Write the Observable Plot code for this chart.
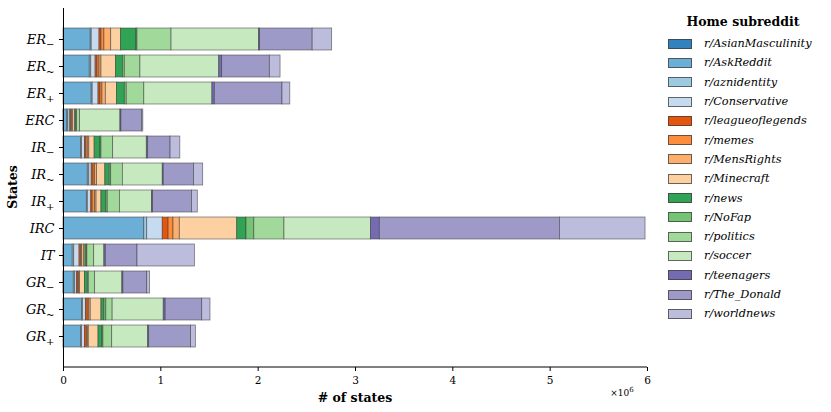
<!DOCTYPE html>
<html>
<head>
<meta charset="utf-8">
<script src="https://cdn.jsdelivr.net/npm/d3@7"></script>
<script src="https://cdn.jsdelivr.net/npm/@observablehq/plot@0.6"></script>
<style>
  body { margin: 0; background: #fff; }
  #wrap { position: relative; width: 831px; height: 412px; font-family: "DejaVu Serif", serif; }
  #chart { position: absolute; left: 0; top: 0; }
  #legend { position: absolute; left: 668px; top: 14px; width: 163px; }
  #legend .title { font-weight: bold; font-size: 12.5px; text-align: center; width: 150px; margin-bottom: 5px; }
  #legend .row { display: flex; align-items: center; height: 19.3px; }
  #legend .sw { width: 24px; height: 10px; border: 1px solid rgba(60,60,60,0.75); box-sizing: border-box; margin-right: 12px; }
  #legend .lab { font-style: italic; font-size: 11.3px; white-space: nowrap; }
</style>
</head>
<body>
<div id="wrap"><div id="chart"></div><div id="legend"></div></div>
<script>
const states = ["ER_-","ER_~","ER_+","ERC","IR_-","IR_~","IR_+","IRC","IT","GR_-","GR_~","GR_+"];
const subreddits = ["r/AsianMasculinity","r/AskReddit","r/aznidentity","r/Conservative","r/leagueoflegends","r/memes","r/MensRights","r/Minecraft","r/news","r/NoFap","r/politics","r/soccer","r/teenagers","r/The_Donald","r/worldnews"];
const colors = ["#3182bd","#6baed6","#9ecae1","#c6dbef","#e6550d","#fd8d3c","#fdae6b","#fdd0a2","#31a354","#74c476","#a1d99b","#c7e9c0","#756bb1","#9e9ac8","#bcbddc"];

// counts per subreddit, one value per state (same order as `states`)
const asianMasculinity = [5000,5000,5000,2000,3000,3000,3000,5000,2000,2000,3000,3000];
const askReddit        = [275000,265000,285000,38000,177000,247000,237000,825000,93000,104000,187000,177000];
const aznidentity      = [10000,15000,10000,10000,10000,15000,10000,30000,15000,14000,10000,10000];
const conservative     = [80000,45000,60000,20000,30000,25000,35000,160000,55000,20000,30000,30000];
const leagueoflegends  = [20000,20000,20000,10000,15000,20000,15000,60000,15000,15000,20000,20000];
const memes            = [30000,20000,20000,10000,15000,15000,25000,50000,10000,10000,15000,10000];
const mensRights       = [70000,20000,35000,10000,15000,20000,15000,65000,20000,5000,15000,10000];
const minecraft        = [100000,150000,115000,20000,55000,85000,50000,590000,15000,50000,110000,100000];
const news             = [160000,70000,80000,10000,60000,45000,50000,95000,15000,30000,30000,40000];
const noFap            = [10000,20000,20000,10000,10000,15000,15000,80000,5000,10000,20000,10000];
const politics         = [350000,160000,180000,30000,120000,120000,125000,310000,70000,65000,65000,90000];
const soccer           = [900000,810000,700000,415000,346000,410000,330000,890000,105000,280000,525000,370000];
const teenagers        = [10000,30000,25000,10000,14000,10000,10000,90000,15000,10000,20000,10000];
const theDonald        = [540000,490000,695000,215000,230000,310000,400000,1850000,325000,245000,375000,430000];
const worldnews        = [200000,110000,80000,10000,100000,95000,60000,880000,590000,30000,85000,50000];

const xTicks = [0,1e6,2e6,3e6,4e6,5e6,6e6];

const series = [asianMasculinity,askReddit,aznidentity,conservative,leagueoflegends,memes,mensRights,minecraft,news,noFap,politics,soccer,teenagers,theDonald,worldnews];
const rows = [];
states.forEach((s, i) => {
  subreddits.forEach((r, j) => rows.push({state: s, sub: r, value: series[j][i]}));
});

const W = 660, H = 412;
const chart = Plot.plot({
  width: W, height: H,
  marginLeft: 63, marginRight: 13, marginTop: 8, marginBottom: 45,
  style: {fontFamily: "DejaVu Serif, serif", fontSize: "10.5px", color: "#000", background: "#fff"},
  x: {domain: [0, 6e6], ticks: xTicks, tickFormat: d => String(d / 1e6), label: null, tickSize: 4},
  y: {domain: states, paddingInner: 0.2, paddingOuter: 0.535, label: null, tickSize: 4},
  color: {domain: subreddits, range: colors},
  marks: [
    Plot.barX(rows, Plot.stackX({y: "state", x: "value", fill: "sub", stroke: "#3a3a3a", strokeOpacity: 0.65, strokeWidth: 0.8, order: null})),
    Plot.ruleX([0], {stroke: "#000", strokeWidth: 1}),
    Plot.axisX({ticks: xTicks, tickFormat: d => String(d / 1e6), tickSize: 4, label: null, fontSize: 10.5}),
    Plot.axisY({tickSize: 4, label: null, tickFormat: d => d, fontSize: 13})
  ]
});
document.getElementById("chart").appendChild(chart);

const svg = d3.select(chart);
// bottom spine
svg.append("line").attr("x1", 63).attr("x2", W - 13).attr("y1", H - 45).attr("y2", H - 45)
  .attr("stroke", "#000").attr("stroke-width", 1);
// y tick labels with subscripts
svg.selectAll('g[aria-label="y-axis tick label"] text').each(function() {
  const t = d3.select(this);
  const key = t.text();
  const [base, sub] = key.split("_");
  t.text("").attr("font-style", "italic");
  t.append("tspan").text(base);
  if (sub) {
    const sym = sub === "-" ? "−" : sub === "~" ? "~" : "+";
    t.append("tspan").attr("font-size", "10px").attr("dy", "4").text(sym);
  }
});
// axis titles
svg.append("text").attr("x", 355).attr("y", 402).attr("text-anchor", "middle")
  .attr("font-weight", "bold").attr("font-size", "12.5px").text("# of states");
svg.append("text").attr("transform", "translate(17,187) rotate(-90)").attr("text-anchor", "middle")
  .attr("font-weight", "bold").attr("font-size", "12.5px").text("States");
const mult = svg.append("text").attr("x", 622).attr("y", 396).attr("font-size", "9px");
mult.append("tspan").text("×10");
mult.append("tspan").attr("dy", "-4").attr("font-size", "7px").text("6");

// legend
const leg = d3.select("#legend");
leg.append("div").attr("class", "title").text("Home subreddit");
subreddits.forEach((s, i) => {
  const row = leg.append("div").attr("class", "row");
  row.append("div").attr("class", "sw").style("background", colors[i]);
  row.append("div").attr("class", "lab").text(s);
});
</script>
</body>
</html>
